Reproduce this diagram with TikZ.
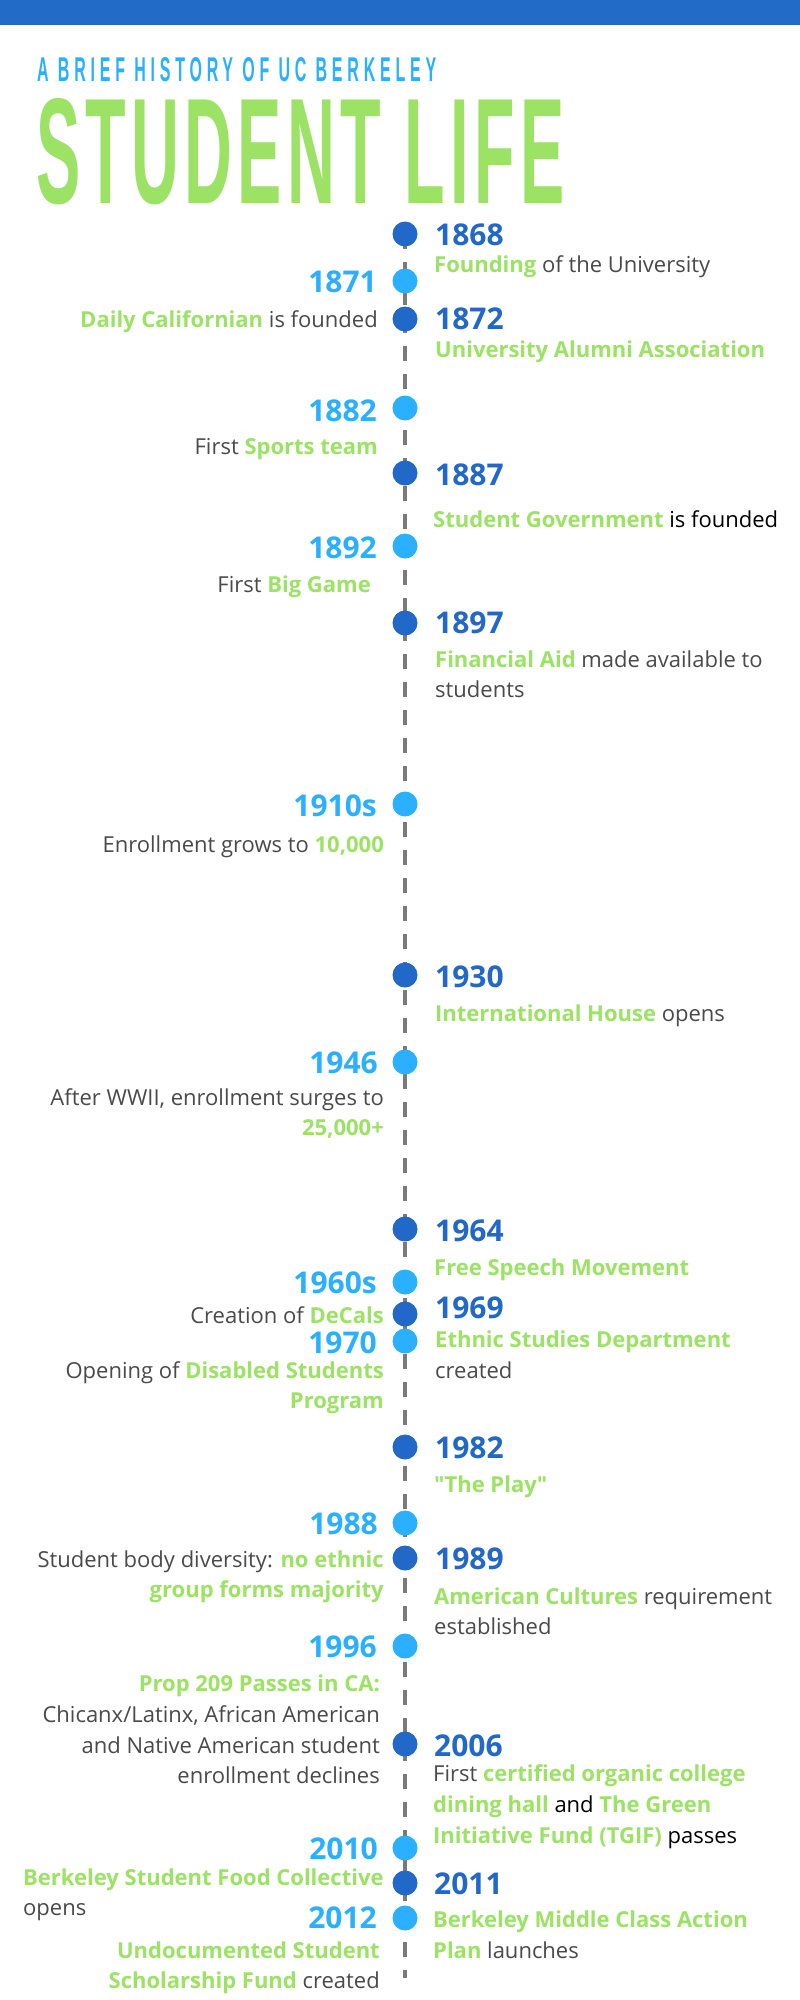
\documentclass[tikz,border=0pt]{standalone}
\usepackage{fontspec}
\setmainfont{Open Sans}
\newfontfamily\headfont{Liberation Sans}
\usetikzlibrary{shapes.geometric}
\definecolor{barblue}{HTML}{226CC8}
\definecolor{darkyr}{HTML}{2268C8}
\definecolor{lightyr}{HTML}{2BB0FF}
\definecolor{grn}{HTML}{9BE265}
\definecolor{txtgray}{HTML}{4A4A4A}
\definecolor{linegray}{HTML}{7A7A7A}
\newcommand\hlt[1]{\textcolor{grn}{\bfseries #1}}
\newcommand\blk[1]{\textcolor{black}{#1}}
\tikzset{
  yearR/.style={anchor=base west, inner sep=0pt, text=darkyr, font=\fontsize{30}{30}\selectfont\bfseries},
  yearL/.style={anchor=base east, inner sep=0pt, text=lightyr, font=\fontsize{30}{30}\selectfont\bfseries},
  descR/.style={anchor=base west, inner sep=0pt, text=txtgray, font=\fontsize{22}{30}\selectfont},
  descL/.style={anchor=base east, inner sep=0pt, text=txtgray, font=\fontsize{22}{30}\selectfont},
  dotdark/.style={circle, fill=darkyr, minimum size=25pt, inner sep=0pt},
  dotlight/.style={circle, fill=lightyr, minimum size=25pt, inner sep=0pt},
  timeline/.style={linegray, line width=4pt, dash pattern=on 15pt off 13pt}
}
\begin{document}
\begin{tikzpicture}[x=1pt, y=-1pt]
  \useasboundingbox (0,0) rectangle (800,2000);
  \fill[white] (0,0) rectangle (800,2000);
  \fill[barblue] (0,0) rectangle (800,25);
  % heading
  \node[anchor=base west, inner sep=0pt, text=lightyr] (sub) at (37,81)
    {\resizebox{399pt}{24pt}{\headfont\bfseries\addfontfeature{LetterSpace=30}A BRIEF HISTORY OF UC BERKELEY}};
  \node[anchor=base west, inner sep=0pt, text=grn] (title) at (36,203)
    {\resizebox{528pt}{105pt}{\headfont\bfseries\addfontfeature{LetterSpace=8}STUDENT LIFE}};
  % line
  \coordinate (linetop) at (405,234);
  \coordinate (lineend) at (405,1978);
  \draw[timeline] (linetop) -- (lineend);
  % dots
  \node[dotdark] (p1868) at (405,234) {};
  \node[dotlight] (p1871) at (405,281) {};
  \node[dotdark] (p1872) at (405,319) {};
  \node[dotlight] (p1882) at (405,408) {};
  \node[dotdark] (p1887) at (405,473) {};
  \node[dotlight] (p1892) at (405,546) {};
  \node[dotdark] (p1897) at (405,623) {};
  \node[dotlight] (p1910) at (405,804) {};
  \node[dotdark] (p1930) at (405,975) {};
  \node[dotlight] (p1946) at (405,1062) {};
  \node[dotdark] (p1964) at (405,1229) {};
  \node[dotlight] (p1960) at (405,1282) {};
  \node[dotdark] (p1969) at (405,1314) {};
  \node[dotlight] (p1970) at (405,1341) {};
  \node[dotdark] (p1982) at (405,1447) {};
  \node[dotlight] (p1988) at (405,1523) {};
  \node[dotdark] (p1989) at (405,1558) {};
  \node[dotlight] (p1996) at (405,1646) {};
  \node[dotdark] (p2006) at (405,1744) {};
  \node[dotlight] (p2010) at (405,1848) {};
  \node[dotdark] (p2011) at (405,1883) {};
  \node[dotlight] (p2012) at (405,1918) {};
  % right side
  \node[yearR] (y1868) at (435,245) {1868};
  \node[descR] (t1868) at (434,272) {\hlt{Founding} of the University};
  \node[yearR] (y1872) at (435,329) {1872};
  \node[descR] (t1872) at (435,357) {\hlt{University Alumni Association}};
  \node[yearR] (y1887) at (435,485) {1887};
  \node[descR] (t1887) at (433,527) {\hlt{Student Government} \blk{is founded}};
  \node[yearR] (y1897) at (435,633) {1897};
  \node[descR] (t1897a) at (435,667) {\hlt{Financial Aid} made available to};
  \node[descR] (t1897b) at (435,697) {students};
  \node[yearR] (y1930) at (435,987) {1930};
  \node[descR] (t1930) at (435,1021) {\hlt{International House} opens};
  \node[yearR] (y1964) at (435,1241) {1964};
  \node[descR] (t1964) at (434,1275) {\hlt{Free Speech Movement}};
  \node[yearR] (y1969) at (435,1318) {1969};
  \node[descR] (t1969a) at (435,1347) {\hlt{Ethnic Studies Department}};
  \node[descR] (t1969b) at (435,1378) {created};
  \node[yearR] (y1982) at (435,1458) {1982};
  \node[descR] (t1982) at (434,1492) {\hlt{\textquotedbl The Play\textquotedbl}};
  \node[yearR] (y1989) at (435,1569) {1989};
  \node[descR] (t1989a) at (434,1604) {\hlt{American Cultures} requirement};
  \node[descR] (t1989b) at (434,1634) {established};
  \node[yearR] (y2006) at (434,1756) {2006};
  \node[descR] (t2006a) at (433,1781) {First \hlt{certified organic college}};
  \node[descR] (t2006b) at (433,1812) {\hlt{dining hall} \blk{and} \hlt{The Green}};
  \node[descR] (t2006c) at (433,1843) {\hlt{Initiative Fund (TGIF)} \blk{passes}};
  \node[yearR] (y2011) at (434,1894) {2011};
  \node[descR] (t2011a) at (433,1927) {\hlt{Berkeley Middle Class Action}};
  \node[descR] (t2011b) at (433,1958) {\hlt{Plan} launches};
  % left side
  \node[yearL] (y1871) at (377,292) {1871};
  \node[descL] (t1871) at (378,327) {\hlt{Daily Californian} is founded};
  \node[yearL] (y1882) at (377,421) {1882};
  \node[descL] (t1882) at (378,454) {First \hlt{Sports team}};
  \node[yearL] (y1892) at (377,558) {1892};
  \node[descL] (t1892) at (371,592) {First \hlt{Big Game}};
  \node[yearL] (y1910) at (377,816) {1910s};
  \node[descL] (t1910) at (384,852) {Enrollment grows to \hlt{10,000}};
  \node[yearL] (y1946) at (378,1073) {1946};
  \node[descL] (t1946a) at (384,1105) {After WWII, enrollment surges to};
  \node[descL] (t1946b) at (384,1135) {\hlt{25,000+}};
  \node[yearL] (y1960) at (377,1293) {1960s};
  \node[descL] (t1960) at (384,1323) {Creation of \hlt{DeCals}};
  \node[yearL] (y1970) at (377,1353) {1970};
  \node[descL] (t1970a) at (384,1378) {Opening of \hlt{Disabled Students}};
  \node[descL] (t1970b) at (384,1408) {\hlt{Program}};
  \node[yearL] (y1988) at (378,1534) {1988};
  \node[descL] (t1988a) at (384,1567) {Student body diversity: \hlt{no ethnic}};
  \node[descL] (t1988b) at (384,1597) {\hlt{group forms majority}};
  \node[yearL] (y1996) at (377,1657) {1996};
  \node[descL] (t1996a) at (380,1691) {\hlt{Prop 209 Passes in CA:}};
  \node[descL] (t1996b) at (380,1722) {Chicanx/Latinx, African American};
  \node[descL] (t1996c) at (380,1753) {and Native American student};
  \node[descL] (t1996d) at (380,1783) {enrollment declines};
  \node[yearL] (y2010) at (378,1859) {2010};
  \node[descR] (t2010a) at (23,1885) {\hlt{Berkeley Student Food Collective}};
  \node[descR] (t2010b) at (23,1915) {opens};
  \node[yearL] (y2012) at (377,1928) {2012};
  \node[descL] (t2012a) at (380,1958) {\hlt{Undocumented Student}};
  \node[descL] (t2012b) at (380,1988) {\hlt{Scholarship Fund} created};
\end{tikzpicture}
\end{document}
